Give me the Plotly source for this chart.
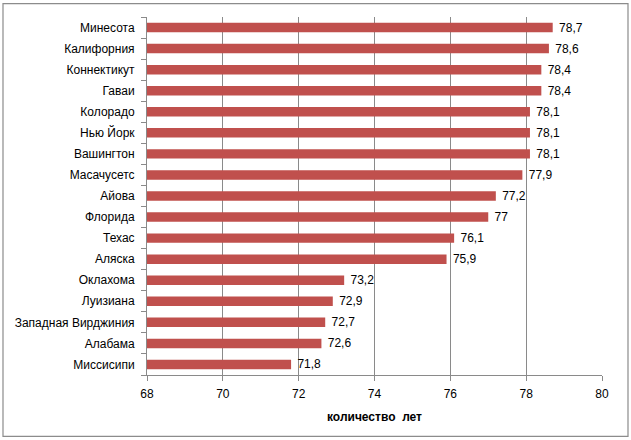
import plotly.graph_objects as go

states = ["Минесота", "Калифорния", "Коннектикут", "Гаваи", "Колорадо", "Нью Йорк",
          "Вашингтон", "Масачусетс", "Айова", "Флорида", "Техас", "Аляска",
          "Оклахома", "Луизиана", "Западная Вирджиния", "Алабама", "Миссисипи"]
years = [78.7, 78.6, 78.4, 78.4, 78.1, 78.1, 78.1, 77.9, 77.2, 77, 76.1, 75.9,
         73.2, 72.9, 72.7, 72.6, 71.8]
labels = ["\u00a0" + str(v).replace(".", ",") for v in years]
x_ticks = [68, 70, 72, 74, 76, 78, 80]

W, H = 631, 440
L, R, T, B = 147, 602, 16.5, 375.5

fig = go.Figure(go.Bar(
    y=states, x=years, orientation="h", base=0,
    marker=dict(color="#C0504D", line=dict(width=0)),
    width=0.45,
    text=labels, textposition="outside", cliponaxis=False, constraintext="none",
    textfont=dict(size=12, color="black", family="Liberation Sans"),
    hoverinfo="skip",
))

def px(x):
    return (x - L) / (R - L)

def py(y):
    return (B - y) / (B - T)

fig.add_shape(type="rect", xref="paper", yref="paper",
              x0=px(3), x1=px(628), y0=py(437), y1=py(3),
              line=dict(color="#8c8c8c", width=1.2), layer="above")

fig.update_layout(
    width=W, height=H,
    margin=dict(l=L, r=W - R, t=T, b=H - B, autoexpand=False),
    paper_bgcolor="white", plot_bgcolor="white",
    font=dict(family="Liberation Sans", size=12, color="black"),
    showlegend=False,
    xaxis=dict(range=[68, 80], tickvals=x_ticks, ticktext=[str(v) for v in x_ticks],
               showgrid=True, gridcolor="#8a8a8a", gridwidth=1,
               showline=True, linecolor="#8a8a8a", linewidth=1,
               ticks="outside", ticklen=5, tickcolor="#8a8a8a",
               zeroline=False, fixedrange=True, ticklabelstandoff=3, automargin=False,
               title=dict(text="<b>количество  лет</b>", font=dict(size=12), standoff=12)),
    yaxis=dict(categoryorder="array", categoryarray=states[::-1],
               showline=True, linecolor="#8a8a8a", linewidth=1,
               ticks="outside", ticklen=5, tickcolor="#8a8a8a", tickson="boundaries",
               showgrid=False, ticklabelstandoff=9, automargin=False, fixedrange=True),
)

fig.write_html("out.html", config={"displayModeBar": False, "staticPlot": True},
               post_script="document.body.style.margin='0';document.body.style.padding='0';")
